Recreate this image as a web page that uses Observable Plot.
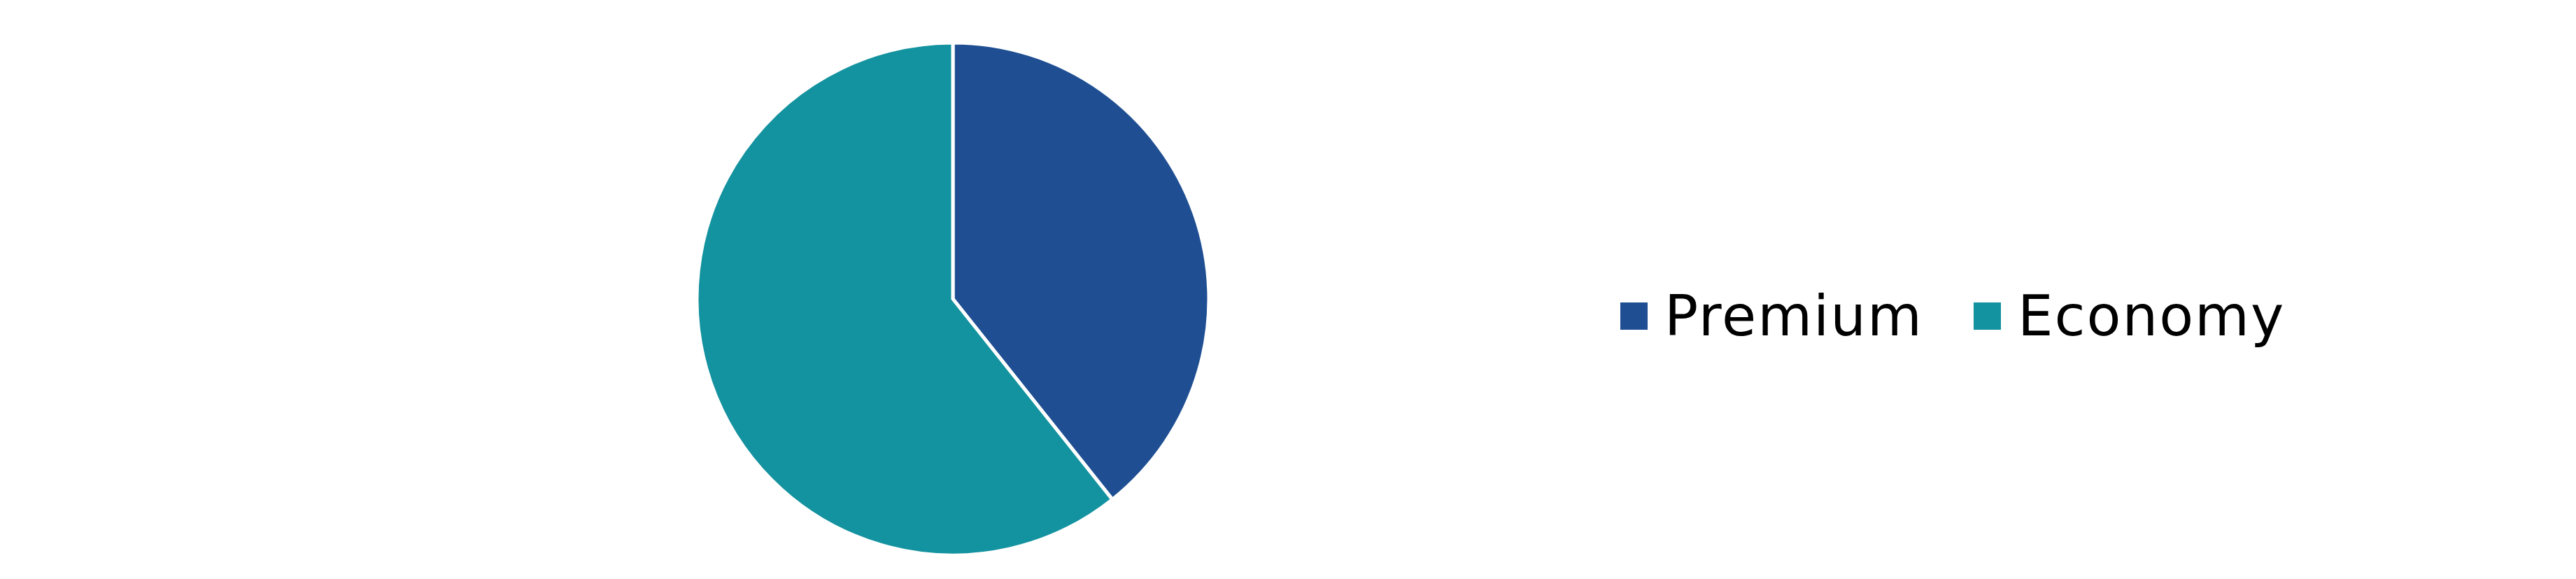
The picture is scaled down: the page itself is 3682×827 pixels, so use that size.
<!DOCTYPE html>
<html>
<head>
<meta charset="utf-8">
<script src="https://cdn.jsdelivr.net/npm/d3@7"></script>
<script src="https://cdn.jsdelivr.net/npm/@observablehq/plot@0.6"></script>
<style>
  html, body { margin: 0; padding: 0; background: #fff; }
  #chart { position: relative; width: 3682px; height: 827px; }
  #chart svg.plot { display: block; }
  #legend { position: absolute; left: 2316px; top: 405px; }
  #legend .lg-swatches { font-family: "DejaVu Sans", sans-serif !important; font-size: 80px !important; letter-spacing: 2px; margin: 0 !important; color: #000; }
  #legend .lg-swatches-wrap { min-height: 0 !important; flex-wrap: nowrap !important; }
  #legend .lg-swatch { margin-right: 72px !important; line-height: normal; }
  #legend .lg-swatch > svg { margin-right: 24px !important; }
</style>
</head>
<body>
<div id="chart"></div>
<script>
// ---- data ----
const categories = ["Premium", "Economy"];
const shares = [39.3, 60.7];
const colors = ["#1f4f92", "#13929f"];

const data = categories.map((c, i) => ({category: c, value: shares[i]}));

// ---- layout ----
const W = 3682, H = 827;
const CX = 1362, CY = 427, R = 366;

const color = Plot.scale({color: {type: "ordinal", domain: categories, range: colors}});

function pieMark(index, scales, values, dims) {
  const slices = d3.pie().sort(null).value(d => d.value)(data);
  const arc = d3.arc().innerRadius(0).outerRadius(R);
  const g = d3.create("svg:g").attr("transform", `translate(${CX},${CY})`);
  g.selectAll("path")
    .data(slices)
    .join("path")
    .attr("d", arc)
    .attr("fill", d => color.apply(d.data.category))
    .attr("stroke", "#fff")
    .attr("stroke-width", 5);
  return g.node();
}

const plot = Plot.plot({
  width: W,
  height: H,
  margin: 0,
  x: {domain: [0, W], axis: null},
  y: {domain: [0, H], axis: null},
  marks: [pieMark]
});

const chart = document.getElementById("chart");
chart.appendChild(plot);

const legendWrap = document.createElement("div");
legendWrap.id = "legend";
const legend = Plot.legend({
  color: {type: "ordinal", domain: categories, range: colors},
  legend: "swatches",
  swatchSize: 39,
  className: "lg"
});
legendWrap.appendChild(legend);
chart.appendChild(legendWrap);
</script>
</body>
</html>
